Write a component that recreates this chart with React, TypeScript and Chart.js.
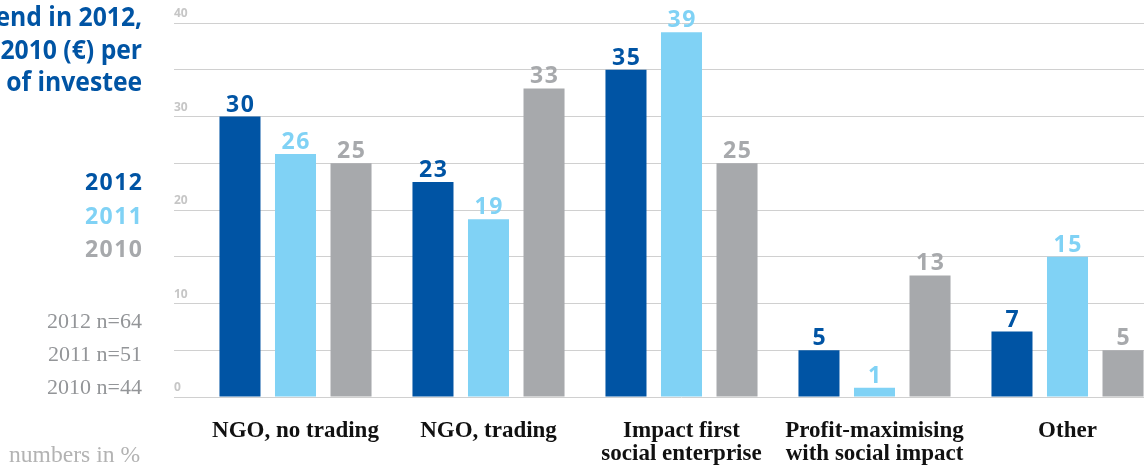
import React, { useEffect, useRef } from "react";
import { Chart, registerables } from "chart.js";

Chart.register(...registerables);

const categories: string[][] = [
  ["NGO, no trading"],
  ["NGO, trading"],
  ["Impact first", "social enterprise"],
  ["Profit-maximising", "with social impact"],
  ["Other"],
];
const values2012: number[] = [30, 23, 35, 5, 7];
const values2011: number[] = [26, 19, 39, 1, 15];
const values2010: number[] = [25, 33, 25, 13, 5];
const seriesNames: string[] = ["2012", "2011", "2010"];
const yTickValues: number[] = [0, 10, 20, 30, 40];
const yTickLabels: string[] = ["0", "10", "20", "30", "40"];
const titleLines: string[] = ["Average spend in 2012,", "2011, 2010 (€) per", "type of investee"];
const sampleLines: string[] = ["2012 n=64", "2011 n=51", "2010 n=44"];
const unitNote = "numbers in %";

const BLUE = "#0054a4";
const LIGHT = "#80d2f5";
const GREY = "#a7a9ac";
const seriesColors = [BLUE, LIGHT, GREY];

const valueLabels = {
  id: "valueLabels",
  afterDatasetsDraw(chart: any) {
    const ctx = chart.ctx;
    ctx.save();
    ctx.font = 'bold 23px "Open Sans"';
    ctx.textAlign = "center";
    ctx.textBaseline = "alphabetic";
    try {
      ctx.letterSpacing = "1.5px";
    } catch (e) {}
    chart.data.datasets.forEach((ds: any, i: number) => {
      const meta = chart.getDatasetMeta(i);
      meta.data.forEach((bar: any, j: number) => {
        ctx.fillStyle = ds.backgroundColor;
        ctx.fillText(String(ds.data[j]), bar.x + 0.75, bar.y - 5);
      });
    });
    ctx.restore();
  },
};

export default function App() {
  const ref = useRef<HTMLCanvasElement | null>(null);

  useEffect(() => {
    if (!ref.current) return;
    const chart = new Chart(ref.current, {
      type: "bar",
      data: {
        labels: categories,
        datasets: [values2012, values2011, values2010].map((d, i) => ({
          label: seriesNames[i],
          data: d,
          backgroundColor: seriesColors[i],
          borderWidth: 0,
          categoryPercentage: 0.863,
          barPercentage: 0.739,
        })),
      },
      options: {
        responsive: false,
        animation: false,
        devicePixelRatio: 1,
        layout: { padding: { left: 174, top: 23, right: 0, bottom: 0 } },
        plugins: { legend: { display: false }, tooltip: { enabled: false } },
        scales: {
          x: {
            grid: { display: false, drawTicks: false },
            border: { display: false },
            ticks: {
              autoSkip: false,
              maxRotation: 0,
              minRotation: 0,
              padding: 22,
              color: "#111111",
              font: { family: '"Liberation Serif"', size: 23, weight: "bold", lineHeight: 1.02 },
            },
            afterFit: (scale: any) => {
              scale.height = 73;
            },
          },
          y: {
            min: 0,
            max: 40,
            grid: { color: "#d0d0d0", lineWidth: 1, drawTicks: true, tickLength: 25 },
            border: { display: false },
            ticks: {
              stepSize: 5,
              crossAlign: "far",
              labelOffset: -9,
              color: "#c6c6c6",
              font: { family: '"Open Sans"', size: 12, weight: "bold" },
              callback: (v: any) => {
                const idx = yTickValues.indexOf(Number(v));
                return idx >= 0 ? yTickLabels[idx] : "";
              },
            },
            afterFit: (scale: any) => {
              scale.width = 25;
            },
          },
        },
      },
      plugins: [valueLabels],
    });
    return () => chart.destroy();
  }, []);

  const rightBlock = (top: number): React.CSSProperties => ({
    position: "absolute",
    right: 1144 - 142,
    top,
    whiteSpace: "nowrap",
    textAlign: "right",
  });

  return (
    <div
      style={{
        position: "fixed",
        left: 0,
        top: 0,
        width: 1144,
        height: 470,
        overflow: "hidden",
        background: "#ffffff",
      }}
    >
      <canvas ref={ref} width={1164} height={470} style={{ position: "absolute", left: 0, top: 0 }} />
      <div
        style={{
          ...rightBlock(0),
          fontFamily: '"Open Sans"',
          fontWeight: "bold",
          fontSize: 26,
          lineHeight: "32.5px",
          color: BLUE,
          transform: "scaleX(0.95)",
          transformOrigin: "right top",
        }}
      >
        {titleLines.map((t) => (
          <div key={t}>{t}</div>
        ))}
      </div>
      <div
        style={{
          ...rightBlock(165.3),
          right: 1144 - 143.5,
          fontFamily: '"Open Sans"',
          fontWeight: "bold",
          fontSize: 23,
          lineHeight: "33.5px",
          letterSpacing: "1.5px",
        }}
      >
        {seriesNames.map((t, i) => (
          <div key={t} style={{ color: seriesColors[i] }}>
            {t}
          </div>
        ))}
      </div>
      <div
        style={{
          ...rightBlock(303.8),
          fontFamily: '"Liberation Serif"',
          fontSize: 22,
          lineHeight: "33px",
          color: "#939598",
        }}
      >
        {sampleLines.map((t) => (
          <div key={t}>{t}</div>
        ))}
      </div>
      <div
        style={{
          position: "absolute",
          left: 9,
          top: 439,
          fontFamily: '"Liberation Serif"',
          fontSize: 23.6,
          lineHeight: "30px",
          color: "#b3b3b3",
          whiteSpace: "nowrap",
        }}
      >
        {unitNote}
      </div>
    </div>
  );
}
